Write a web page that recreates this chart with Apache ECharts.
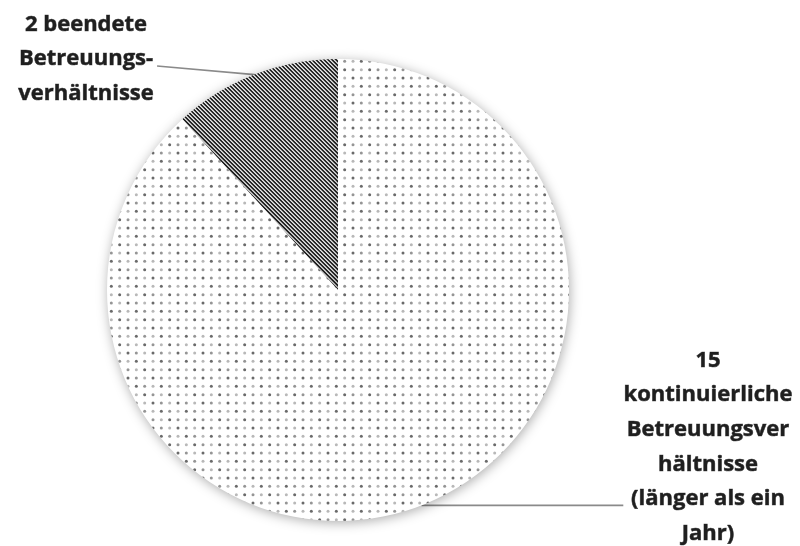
<!DOCTYPE html>
<html>
<head>
<meta charset="utf-8">
<script src="https://cdn.jsdelivr.net/npm/echarts@6/dist/echarts.min.js"></script>
<style>
  html, body { margin: 0; padding: 0; background: #ffffff; }
  #chart { width: 800px; height: 546px; }
</style>
</head>
<body>
<div id="chart"></div>
<script>
// Betreuungsverhältnisse: ended vs. continuing
const categories = ['beendete', 'kontinuierliche'];
const values = [2, 15];
// label text after the count (the count itself comes from values)
const labelRest = [
  ' beendete\nBetreuungs-\nverhältnisse',
  '\nkontinuierliche\nBetreuungsver\nhältnisse\n(länger als ein\nJahr)'
];

// fill textures
function stripeTile() {
  const c = document.createElement('canvas');
  c.width = 4; c.height = 4;
  const ctx = c.getContext('2d');
  const shades = ['#1e1e1e', '#363636', '#e8e8e8', '#b0b0b0'];
  for (let y = 0; y < 4; y++) {
    for (let x = 0; x < 4; x++) {
      ctx.fillStyle = shades[((x - y) % 4 + 4) % 4];
      ctx.fillRect(x, y, 1, 1);
    }
  }
  return c;
}
function dotTile() {
  const size = 25;
  const c = document.createElement('canvas');
  c.width = size; c.height = size;
  const ctx = c.getContext('2d');
  ctx.fillStyle = '#ffffff';
  ctx.fillRect(0, 0, size, size);
  const step = size / 3;
  const tones = ['#6a6a6a', '#959595', '#b8b8b8'];
  for (let j = 0; j < 3; j++) {
    for (let i = 0; i < 3; i++) {
      ctx.fillStyle = tones[(i + 2 * j) % 3];
      ctx.beginPath();
      ctx.arc(i * step + 3, j * step + 3, 1.5, 0, Math.PI * 2);
      ctx.fill();
    }
  }
  return c;
}

const fills = [
  { image: stripeTile(), repeat: 'repeat' },
  { image: dotTile(), repeat: 'repeat' }
];

// label block centres
const labelCenters = [[86, 59], [708, 447]];

const chart = echarts.init(document.getElementById('chart'), null, { renderer: 'canvas' });

chart.setOption({
  animation: false,
  backgroundColor: '#ffffff',
  series: [{
    type: 'pie',
    center: [338, 290],
    radius: 231,
    startAngle: 90 + 360 * values[0] / (values[0] + values[1]),
    clockwise: true,
    avoidLabelOverlap: false,
    silent: true,
    itemStyle: {
      borderWidth: 0,
      shadowBlur: 12,
      shadowColor: 'rgba(0,0,0,0.32)',
      shadowOffsetX: 1,
      shadowOffsetY: 2
    },
    label: {
      show: true,
      position: 'outside',
      color: '#1f1f1f',
      fontFamily: 'Open Sans',
      fontWeight: 'bold',
      fontSize: 22,
      lineHeight: 34.6,
      align: 'center',
      textBorderColor: 'rgba(31,31,31,0.8)',
      textBorderWidth: 0.6,
      formatter: p => p.value + labelRest[p.dataIndex]
    },
    labelLine: {
      show: true,
      length: 0,
      length2: 10,
      smooth: false,
      lineStyle: { color: '#8a8a8a', width: 1.6 }
    },
    labelLayout: function (p) {
      const c = labelCenters[p.dataIndex];
      const w = p.labelRect.width;
      const anchor = p.labelLinePoints ? p.labelLinePoints[0].slice() : null;
      const out = { x: c[0], y: c[1], align: 'center', verticalAlign: 'middle' };
      if (anchor) {
        if (p.dataIndex === 0) {
          out.labelLinePoints = [anchor, [c[0] + w / 2 + 3, c[1] + 7]];
        } else {
          out.labelLinePoints = [anchor, [c[0] - w / 2, anchor[1]]];
        }
      }
      return out;
    },
    data: categories.map((name, i) => ({
      name: name,
      value: values[i],
      itemStyle: { color: fills[i] }
    }))
  }]
});
</script>
</body>
</html>
